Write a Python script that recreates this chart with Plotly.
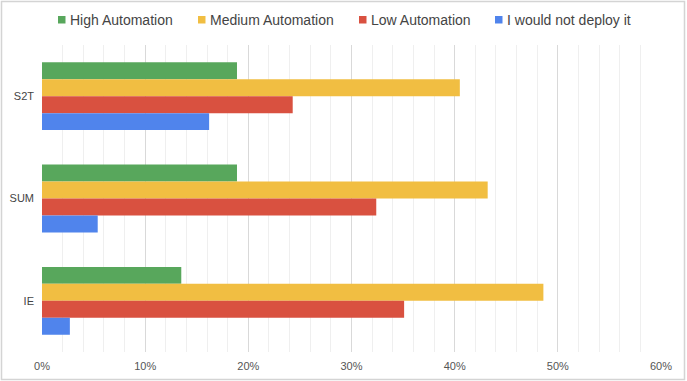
import plotly.graph_objects as go

categories = ["S2T", "SUM", "IE"]
series_names = ["High Automation", "Medium Automation", "Low Automation", "I would not deploy it"]
high_automation = [0.189, 0.189, 0.135]
medium_automation = [0.405, 0.432, 0.486]
low_automation = [0.243, 0.324, 0.351]
would_not_deploy = [0.162, 0.054, 0.027]
series_values = [high_automation, medium_automation, low_automation, would_not_deploy]
colors = ["#58A75C", "#F1BE42", "#D95140", "#5084EC"]
x_tick_vals = [0, 0.1, 0.2, 0.3, 0.4, 0.5, 0.6]
x_tick_text = ["0%", "10%", "20%", "30%", "40%", "50%", "60%"]

fig = go.Figure()
for name, vals, col in zip(series_names, series_values, colors):
    fig.add_trace(go.Bar(
        y=categories, x=vals, name=name, orientation="h",
        marker=dict(color=col, line=dict(width=0)),
        showlegend=False,
    ))

W, H = 687, 381
L, R, T, B = 42, 26, 45, 29
pw, ph = W - L - R, H - T - B

def px_x(x):
    return (x - L) / pw

def px_y(y):
    return (H - B - y) / ph

# custom legend row (left edge of each swatch, in pixels)
legend_left = [58, 198, 359, 495]
shapes = []
annotations = []
for name, col, lx in zip(series_names, colors, legend_left):
    shapes.append(dict(
        type="rect", xref="paper", yref="paper",
        x0=px_x(lx), x1=px_x(lx + 7.5), y0=px_y(23.5), y1=px_y(16),
        line=dict(width=0), fillcolor=col,
    ))
    annotations.append(dict(
        text=name, xref="paper", yref="paper", x=px_x(lx + 9.5), y=px_y(20),
        xanchor="left", yanchor="middle", showarrow=False,
        font=dict(size=14, color="#444444"),
    ))

shapes.append(dict(
    type="rect", xref="paper", yref="paper",
    x0=px_x(1.5), x1=px_x(W - 2.5),
    y0=px_y(H - 1.5), y1=px_y(1.5),
    line=dict(color="#d4d4d4", width=1.5), fillcolor="rgba(0,0,0,0)",
    layer="below",
))

fig.update_layout(
    width=W, height=H,
    margin=dict(l=L, r=R, t=T, b=B),
    paper_bgcolor="white", plot_bgcolor="white",
    barmode="group", bargap=0.337, bargroupgap=0,
    font=dict(family="Liberation Sans, Arial, sans-serif", color="#444444"),
    showlegend=False,
    xaxis=dict(
        range=[0, 0.6], tickvals=x_tick_vals, ticktext=x_tick_text,
        showgrid=True, gridcolor="#d9d9d9", gridwidth=1,
        minor=dict(dtick=0.02, showgrid=True, gridcolor="#efefef", gridwidth=1),
        zeroline=False, showline=False, ticks="",
        tickfont=dict(size=11, color="#555555"), ticklabelstandoff=6,
        fixedrange=True, automargin=False,
    ),
    yaxis=dict(
        autorange="reversed", showgrid=False, zeroline=False, showline=False,
        ticks="", tickfont=dict(size=11, color="#444444"), ticklabelstandoff=7,
        automargin=False,
    ),
    shapes=shapes,
    annotations=annotations,
)

fig.write_html("out.html")
